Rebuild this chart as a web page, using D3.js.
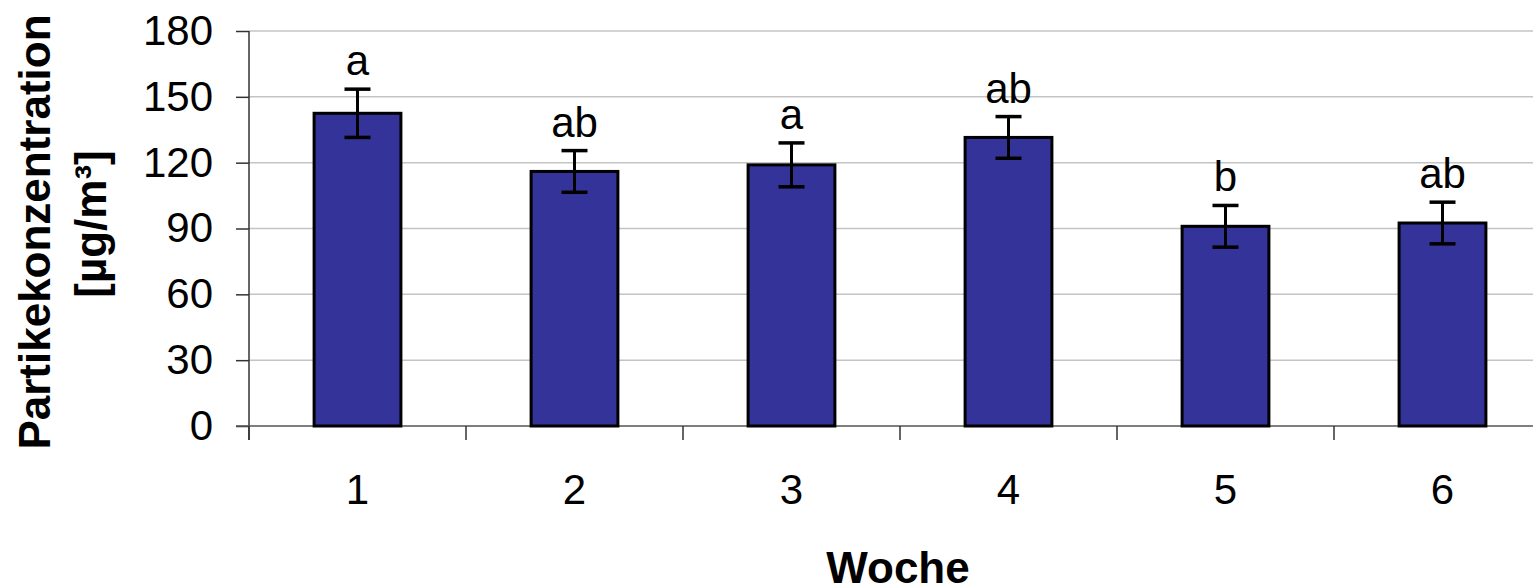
<!DOCTYPE html>
<html>
<head>
<meta charset="utf-8">
<script src="https://cdn.jsdelivr.net/npm/d3@7"></script>
<style>
  body { margin: 0; background: #fff; }
  svg { display: block; font-family: "Liberation Sans", Arial, sans-serif; }
</style>
</head>
<body>
<svg></svg>
<script>
const weeks = ["1", "2", "3", "4", "5", "6"];
const values = [142.5, 116, 119, 131.5, 91, 92.5];
const errors = [11, 9.5, 10, 9.5, 9.5, 9.5];
const letters = ["a", "ab", "a", "ab", "b", "ab"];
const yTicks = [0, 30, 60, 90, 120, 150, 180];

const svgWidth = 1533;
const svgHeight = 585;

const svg = d3.select("svg")
    .attr("width", svgWidth)
    .attr("height", svgHeight);

const plotLeft = 249, plotRight = 1551, plotTop = 31, plotBottom = 426;

const x = d3.scaleBand()
    .domain(weeks)
    .range([plotLeft, plotRight])
    .paddingInner(0.6)
    .paddingOuter(0.3);

const y = d3.scaleLinear()
    .domain([0, 180])
    .range([plotBottom, plotTop]);

const data = weeks.map((w, i) => ({week: w, value: values[i], err: errors[i], letter: letters[i]}));

// gridlines
svg.append("g")
    .selectAll("line")
    .data(yTicks.filter(t => t > 0))
    .enter().append("line")
    .attr("x1", plotLeft).attr("x2", svgWidth)
    .attr("y1", d => y(d)).attr("y2", d => y(d))
    .attr("stroke", "#c4c4c4")
    .attr("stroke-width", 1.5);

// y axis
const yAxis = svg.append("g")
    .attr("transform", "translate(" + plotLeft + ",0)")
    .call(d3.axisLeft(y).tickValues(yTicks).tickSize(13).tickPadding(23));
yAxis.select(".domain").remove();
yAxis.selectAll(".tick line").attr("stroke", "#333").attr("stroke-width", 1.5);
yAxis.selectAll(".tick text")
    .attr("font-size", 42)
    .attr("font-family", "Liberation Sans, Arial, sans-serif")
    .attr("fill", "#000");

svg.append("line")
    .attr("x1", plotLeft).attr("x2", plotLeft)
    .attr("y1", plotTop).attr("y2", plotBottom + 14)
    .attr("stroke", "#333").attr("stroke-width", 1.5);

// x axis line and boundary ticks
svg.append("line")
    .attr("x1", plotLeft - 13).attr("x2", svgWidth)
    .attr("y1", plotBottom).attr("y2", plotBottom)
    .attr("stroke", "#555").attr("stroke-width", 1.5);

const step = x.step();
svg.append("g")
    .selectAll("line")
    .data(weeks)
    .enter().append("line")
    .attr("x1", d => x(d) - step * 0.3)
    .attr("x2", d => x(d) - step * 0.3)
    .attr("y1", plotBottom).attr("y2", plotBottom + 14)
    .attr("stroke", "#333").attr("stroke-width", 1.5);

svg.append("g")
    .selectAll("text")
    .data(weeks)
    .enter().append("text")
    .attr("x", d => x(d) + x.bandwidth() / 2)
    .attr("y", 504)
    .attr("text-anchor", "middle")
    .attr("font-size", 42)
    .text(d => d);

// bars
svg.append("g")
    .selectAll("rect")
    .data(data)
    .enter().append("rect")
    .attr("x", d => x(d.week))
    .attr("y", d => y(d.value))
    .attr("width", x.bandwidth())
    .attr("height", d => y(0) - y(d.value))
    .attr("fill", "#333399")
    .attr("stroke", "#000")
    .attr("stroke-width", 3);

// error bars
const eb = svg.append("g")
    .selectAll("g")
    .data(data)
    .enter().append("g")
    .attr("transform", d => "translate(" + (x(d.week) + x.bandwidth() / 2) + ",0)");

eb.append("line")
    .attr("x1", 0).attr("x2", 0)
    .attr("y1", d => y(d.value + d.err))
    .attr("y2", d => y(d.value - d.err))
    .attr("stroke", "#000").attr("stroke-width", 3);

eb.append("line")
    .attr("x1", -13).attr("x2", 13)
    .attr("y1", d => y(d.value + d.err))
    .attr("y2", d => y(d.value + d.err))
    .attr("stroke", "#000").attr("stroke-width", 3.5);

eb.append("line")
    .attr("x1", -13).attr("x2", 13)
    .attr("y1", d => y(d.value - d.err))
    .attr("y2", d => y(d.value - d.err))
    .attr("stroke", "#000").attr("stroke-width", 3.5);

eb.append("text")
    .attr("x", 0)
    .attr("y", d => y(d.value + d.err) - 14)
    .attr("text-anchor", "middle")
    .attr("font-size", 42)
    .text(d => d.letter);

// axis titles
svg.append("text")
    .attr("transform", "translate(50,232) rotate(-90)")
    .attr("text-anchor", "middle")
    .attr("font-size", 44)
    .attr("font-weight", "bold")
    .text("Partikekonzentration");

svg.append("text")
    .attr("transform", "translate(106,224) rotate(-90)")
    .attr("text-anchor", "middle")
    .attr("font-size", 44)
    .attr("font-weight", "bold")
    .text("[µg/m³]");

svg.append("text")
    .attr("x", 898)
    .attr("y", 583)
    .attr("text-anchor", "middle")
    .attr("font-size", 44)
    .attr("font-weight", "bold")
    .text("Woche");
</script>
</body>
</html>
